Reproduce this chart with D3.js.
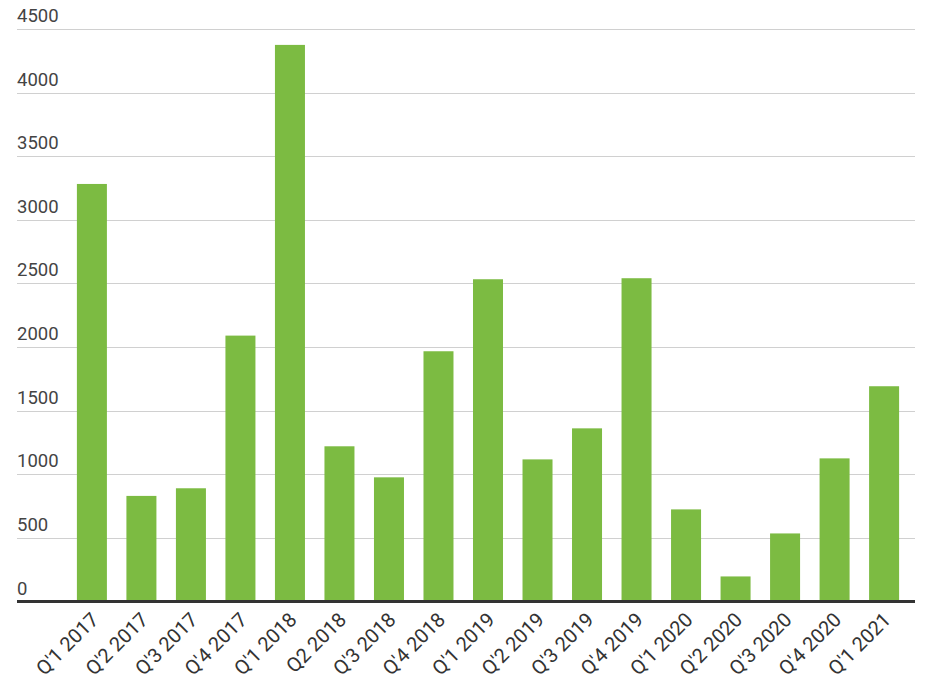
<!DOCTYPE html>
<html>
<head>
<meta charset="utf-8">
<script src="https://cdn.jsdelivr.net/npm/d3@7"></script>
<style>
  body { margin: 0; background: #fff; }
  text { font-family: Roboto, "Noto Sans", sans-serif; }
</style>
</head>
<body>
<div id="chart"></div>
<script>
var quarters = ["Q'1 2017", "Q'2 2017", "Q'3 2017", "Q'4 2017", "Q'1 2018", "Q2 2018",
    "Q'3 2018", "Q'4 2018", "Q'1 2019", "Q'2 2019", "Q'3 2019", "Q'4 2019",
    "Q'1 2020", "Q'2 2020", "Q'3 2020", "Q'4 2020", "Q'1 2021"];
var counts = [3282, 830, 890, 2090, 4375, 1220, 976, 1967, 2533, 1117, 1361, 2541,
    724, 197, 535, 1125, 1692];
var yTicks = [0, 500, 1000, 1500, 2000, 2500, 3000, 3500, 4000, 4500];

var W = 929, H = 683;
var left = 17, right = 915;

var svg = d3.select("#chart").append("svg")
    .attr("width", W).attr("height", H);

var x = d3.scaleBand().domain(quarters)
    .range([67, 909]).paddingInner(0.394).paddingOuter(0.2);

var y = d3.scaleLinear().domain([0, 4500]).range([601.5, 29]);

// grid lines + labels
var grid = svg.append("g");
grid.selectAll("line").data(yTicks.filter(function(d){ return d > 0; })).enter()
    .append("line")
    .attr("x1", left).attr("x2", right)
    .attr("y1", function(d){ return Math.round(y(d)) + 0.5; })
    .attr("y2", function(d){ return Math.round(y(d)) + 0.5; })
    .attr("stroke", "#d0d0d0").attr("stroke-width", 1);

grid.selectAll("text").data(yTicks).enter().append("text")
    .attr("x", left)
    .attr("y", function(d){ return y(d) - 7; })
    .attr("fill", "#444")
    .style("font-size", "18.5px")
    .text(function(d){ return d; });

// bars
svg.append("g").selectAll("rect").data(counts).enter().append("rect")
    .attr("x", function(d, i){ return x(quarters[i]); })
    .attr("y", function(d){ return y(d); })
    .attr("width", x.bandwidth())
    .attr("height", function(d){ return y(0) - y(d); })
    .attr("fill", "#7cbb42");

// baseline
svg.append("line")
    .attr("x1", left).attr("x2", right)
    .attr("y1", y(0)).attr("y2", y(0))
    .attr("stroke", "#333").attr("stroke-width", 3);

// x labels
svg.append("g").selectAll("text").data(quarters).enter().append("text")
    .attr("transform", function(d){
        return "translate(" + (x(d) + x.bandwidth() / 2 + 3) + ",616) rotate(-45)";
    })
    .attr("text-anchor", "end")
    .attr("dy", "0.35em")
    .attr("fill", "#333")
    .style("font-size", "20px")
    .text(function(d){ return d; });
</script>
</body>
</html>
